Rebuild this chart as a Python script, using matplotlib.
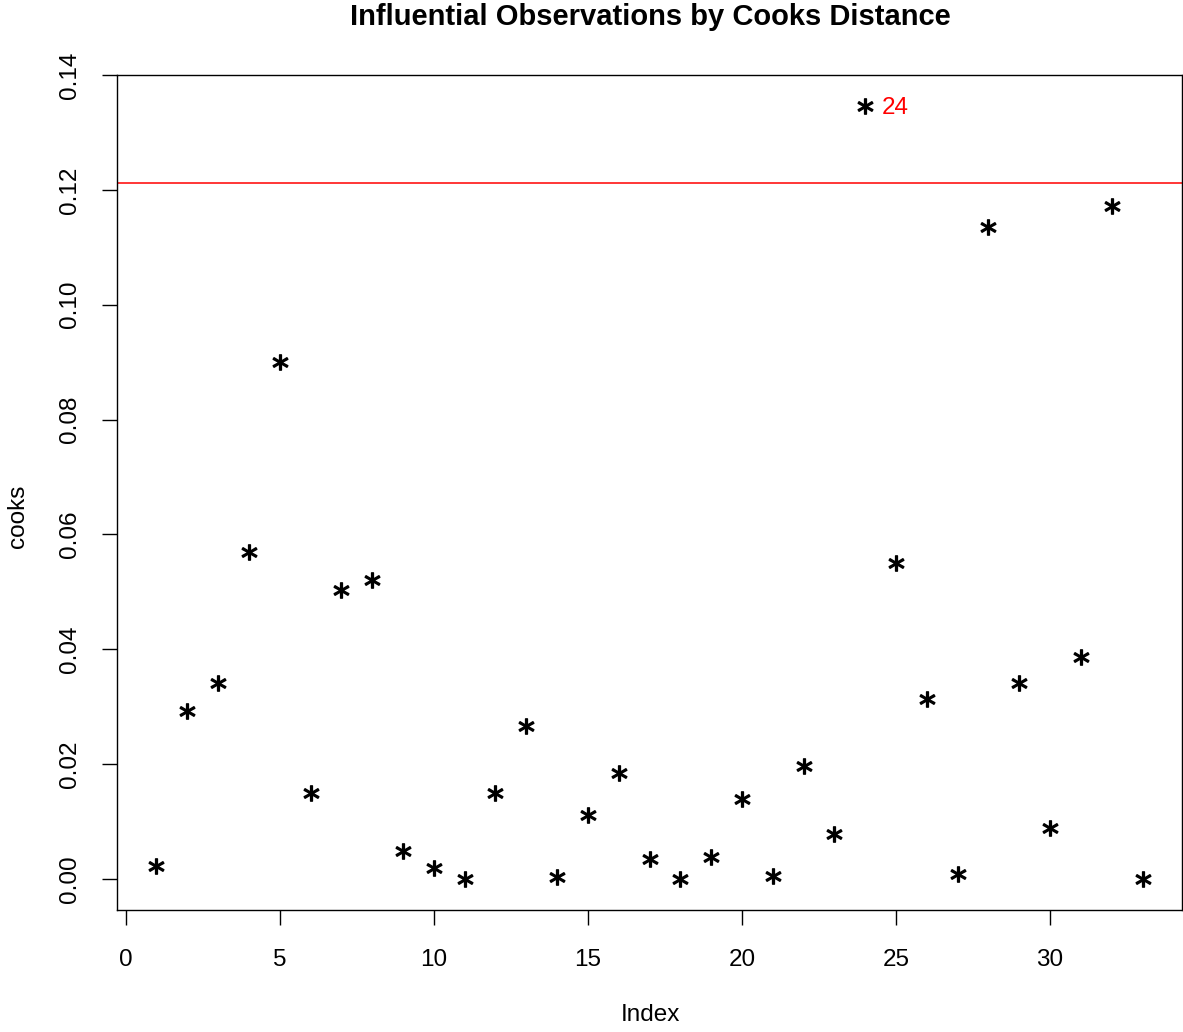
import numpy as np
import matplotlib
matplotlib.use("Agg")
import matplotlib.pyplot as plt

index = np.arange(1, 34)
cooks = [0.0023, 0.0293, 0.0342, 0.0570, 0.0900, 0.0150, 0.0504, 0.0520,
         0.0049, 0.0019, 0.0000, 0.0150, 0.0267, 0.0003, 0.0112, 0.0185,
         0.0035, 0.0000, 0.0038, 0.0139, 0.0005, 0.0197, 0.0078, 0.1346,
         0.0551, 0.0314, 0.0009, 0.1135, 0.0342, 0.0089, 0.0387, 0.1172,
         0.0000]
cutoff = 4 / 33
flagged = [24]

plt.rcParams['font.family'] = ['Liberation Sans', 'DejaVu Sans']

fig = plt.figure(figsize=(11.83, 10.32), dpi=100)
W, H = 1183, 1032
ax = fig.add_axes([117 / W, 1 - 910 / H, (1182 - 117) / W, (910 - 75) / H])

cooks = np.array(cooks)
ax.plot(index, cooks, ls='none', marker='$*$', ms=11, color='black')
ax.axhline(cutoff, color='red', lw=1.1)
for i in flagged:
    ax.text(i + 0.55, cooks[i - 1] - 0.0004, str(i), color='red', fontsize=17.5,
            ha='left', va='center')

# R-style 4% padding on both axes
xr = index.max() - index.min()
ax.set_xlim(index.min() - 0.04 * xr, index.max() + 0.04 * xr)
yr = cooks.max() - cooks.min()
ax.set_ylim(cooks.min() - 0.04 * yr, cooks.max() + 0.04 * yr)

ax.set_xticks(np.arange(0, 31, 5))
ax.set_yticks(np.arange(0, 0.141, 0.02))
ax.set_yticklabels([f"{v:.2f}" for v in np.arange(0, 0.141, 0.02)],
                   rotation=90, va='center')
ax.tick_params(axis='both', direction='out', length=11, width=1, labelsize=17.5)
ax.tick_params(axis='x', pad=17)
ax.tick_params(axis='y', pad=15)
for s in ax.spines.values():
    s.set_linewidth(1)

fig.text(18 / W, 1 - 516 / H, "cooks", rotation=90, fontsize=17.5,
         ha='center', va='center')
fig.text(650 / W, 1 - 1015 / H, "Index", fontsize=17.5, ha='center', va='center')
fig.text(650 / W, 1 - 17 / H, "Influential Observations by Cooks Distance",
         fontsize=21, fontweight='bold', ha='center', va='center')

fig.savefig("out.png", dpi=100)
